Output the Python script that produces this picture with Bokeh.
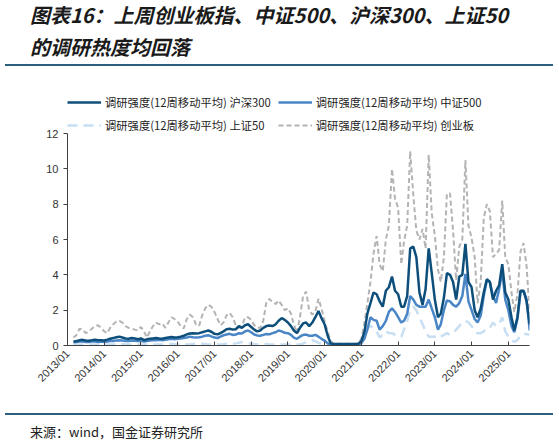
from math import pi
import pandas as pd
from bokeh.plotting import figure
from bokeh.layouts import column
from bokeh.models import (Div, Legend, LegendItem, FixedTicker,
                          DatetimeTickFormatter, Range1d)
from bokeh.embed import file_html
from bokeh.resources import INLINE

# monthly points, 2013/03 .. 2025/08
dates = pd.date_range("2013-03-01", "2025-08-01", freq="MS")

# 调研强度(12周移动平均) 沪深300
hs300 = [0.22, 0.25, 0.30, 0.32, 0.28, 0.27, 0.30, 0.33, 0.30, 0.30,
         0.28, 0.33, 0.38, 0.42, 0.47, 0.50, 0.45, 0.40, 0.38, 0.42, 0.40, 0.35,
         0.40, 0.30, 0.35, 0.38, 0.40, 0.42, 0.40, 0.38, 0.42, 0.45, 0.48, 0.45,
         0.47, 0.50, 0.55, 0.63, 0.68, 0.70, 0.68, 0.70, 0.75, 0.80, 0.85, 0.78,
         0.66, 0.63, 0.70, 0.80, 0.92, 0.95, 0.90, 0.92, 1.10, 1.00, 1.15, 1.20,
         1.05, 0.90, 0.80, 0.85, 1.00, 1.10, 1.13, 1.10, 1.20, 1.40, 1.55, 1.45,
         1.30, 1.10, 0.85, 0.70, 1.00, 1.25, 1.30, 1.10, 1.30, 1.60, 1.95, 1.55,
         1.20, 0.55, 0.12, 0.08, 0.08, 0.08, 0.08, 0.08, 0.08, 0.08, 0.08, 0.10,
         0.25, 0.80, 1.80, 2.40, 3.00, 2.90, 2.50, 2.20, 3.10, 3.30, 3.90, 3.10,
         2.90, 2.20, 2.20, 2.80, 5.50, 5.60, 5.00, 3.00, 2.30, 3.20, 5.50, 4.10,
         2.60, 1.60, 1.80, 2.70, 4.10, 4.00, 3.60, 2.60, 3.90, 4.00, 5.75, 3.60,
         3.30, 2.00, 1.60, 2.10, 3.00, 3.75, 3.60, 2.60, 3.10, 3.40, 4.60, 3.00,
         2.60, 1.60, 0.85, 1.60, 3.10, 3.10, 2.50, 1.20]

# 调研强度(12周移动平均) 中证500
zz500 = [0.18, 0.20, 0.22, 0.22, 0.20, 0.20, 0.22, 0.22, 0.20, 0.22,
         0.20, 0.22, 0.25, 0.25, 0.28, 0.30, 0.28, 0.25, 0.25, 0.28, 0.27, 0.25,
         0.27, 0.22, 0.25, 0.28, 0.30, 0.30, 0.32, 0.30, 0.32, 0.35, 0.38, 0.36,
         0.38, 0.40, 0.42, 0.45, 0.50, 0.47, 0.45, 0.47, 0.50, 0.55, 0.58, 0.52,
         0.45, 0.42, 0.50, 0.58, 0.62, 0.66, 0.60, 0.62, 0.70, 0.68, 0.80, 0.85,
         0.75, 0.62, 0.57, 0.55, 0.60, 0.65, 0.63, 0.70, 0.75, 0.85, 0.80, 0.72,
         0.70, 0.60, 0.45, 0.38, 0.50, 0.60, 0.62, 0.55, 0.55, 0.60, 0.50, 0.38,
         0.28, 0.12, 0.03, 0.02, 0.02, 0.02, 0.02, 0.02, 0.02, 0.02, 0.03, 0.05,
         0.15, 0.40, 0.90, 1.60, 1.45, 1.40, 0.90, 1.10, 1.40, 1.90, 2.10, 1.90,
         1.60, 1.30, 1.40, 1.80, 2.80, 2.60, 2.30, 2.20, 2.20, 2.20, 2.60, 2.10,
         1.60, 0.90, 1.20, 2.00, 2.55, 2.50, 2.30, 2.20, 2.40, 2.80, 4.05, 2.50,
         2.00, 1.50, 1.30, 1.70, 2.80, 3.70, 3.60, 2.80, 2.40, 3.20, 4.20, 2.60,
         2.00, 1.10, 0.75, 1.50, 3.00, 3.10, 2.60, 0.85]

# 调研强度(12周移动平均) 上证50
sz50 = [0.05, 0.05, 0.05, 0.05, 0.05, 0.05, 0.05, 0.05, 0.05, 0.05,
        0.05, 0.05, 0.05, 0.06, 0.08, 0.10, 0.08, 0.06, 0.05, 0.05, 0.05, 0.05,
        0.05, 0.05, 0.06, 0.06, 0.05, 0.05, 0.05, 0.05, 0.06, 0.08, 0.10, 0.08,
        0.06, 0.06, 0.05, 0.05, 0.06, 0.08, 0.12, 0.12, 0.10, 0.08, 0.05, 0.05,
        0.05, 0.05, 0.06, 0.08, 0.10, 0.08, 0.10, 0.12, 0.15, 0.20, 0.18, 0.12,
        0.10, 0.08, 0.06, 0.06, 0.08, 0.08, 0.06, 0.05, 0.06, 0.05, 0.05, 0.06,
        0.05, 0.05, 0.05, 0.05, 0.06, 0.10, 0.20, 0.25, 0.30, 0.25, 0.15, 0.10,
        0.05, 0.02, 0.02, 0.02, 0.02, 0.02, 0.02, 0.02, 0.02, 0.02, 0.02, 0.03,
        0.10, 0.60, 1.00, 1.10, 1.00, 0.80, 0.45, 0.60, 0.80, 0.70, 0.70, 0.60,
        0.50, 0.50, 0.90, 1.40, 2.00, 2.20, 2.00, 1.60, 1.20, 0.80, 0.50, 0.50,
        0.50, 0.60, 0.50, 0.60, 0.70, 0.60, 0.70, 0.90, 1.10, 1.30, 1.40, 1.30,
        1.10, 0.80, 0.70, 0.70, 0.80, 1.00, 1.00, 1.30, 1.10, 1.20, 1.60, 0.80,
        0.50, 0.30, 0.20, 0.30, 0.60, 0.65, 0.65, 0.60]

# 调研强度(12周移动平均) 创业板
cyb = [0.45, 0.60, 0.95, 0.90, 0.70, 0.80, 0.95, 1.10, 1.15, 1.00,
       0.80, 0.70, 1.00, 1.20, 1.35, 1.40, 1.30, 1.10, 1.00, 0.95, 0.90, 0.85,
       1.05, 0.80, 0.45, 0.80, 1.10, 1.30, 1.20, 1.25, 1.00, 1.30, 1.60, 1.50,
       1.35, 1.10, 0.96, 1.50, 1.75, 1.60, 1.20, 1.10, 1.70, 2.10, 2.30, 2.20,
       1.90, 1.50, 1.15, 1.30, 1.70, 1.85, 1.60, 1.15, 1.00, 1.10, 1.60, 1.60,
       1.45, 1.15, 1.00, 1.00, 1.40, 2.45, 2.64, 2.45, 2.35, 2.55, 2.30, 2.00,
       2.10, 1.80, 1.20, 0.70, 1.60, 2.80, 3.05, 2.00, 1.75, 1.90, 2.65, 2.10,
       1.40, 0.77, 0.25, 0.10, 0.10, 0.10, 0.10, 0.10, 0.10, 0.10, 0.10, 0.12,
       0.40, 1.30, 2.40, 3.60, 5.20, 6.20, 4.60, 4.20, 6.00, 6.80, 10.00, 8.30,
       7.80, 4.60, 5.90, 6.80, 11.00, 8.50, 6.50, 6.00, 6.60, 5.50, 10.80, 7.50,
       6.20, 4.30, 3.60, 5.00, 8.60, 8.60, 6.50, 3.70, 5.60, 6.00, 10.50, 6.80,
       6.10, 5.00, 2.40, 3.60, 7.20, 8.00, 7.60, 5.00, 5.20, 5.40, 8.20, 5.00,
       4.60, 3.00, 1.90, 2.90, 5.30, 5.80, 4.50, 1.80]

years = list(range(2013, 2026))
y_ticks = [0, 2, 4, 6, 8, 10, 12]

title1 = "图表16：上周创业板指、中证500、沪深300、上证50"
title2 = "的调研热度均回落"
source = "来源：wind，国金证券研究所"
names = ["调研强度(12周移动平均) 沪深300", "调研强度(12周移动平均) 中证500",
         "调研强度(12周移动平均) 上证50", "调研强度(12周移动平均) 创业板"]

cjk = "Noto Sans CJK SC"
rule_color = "#2b5f7e"
rule = ('<div style="position:absolute;left:5px;top:{}px;width:548px;height:2px;'
        'background:' + rule_color + '"></div>')
title_line = ('<div style="position:absolute;left:30px;top:{}px;font-family:\'' + cjk + '\';'
              'font-size:20px;font-weight:bold;font-style:italic;line-height:26px;'
              'color:#1a1a1a;white-space:nowrap">{}</div>')

head = Div(width=559, height=70, margin=0, text=(
    title_line.format(2, title1) + title_line.format(34, title2) + rule.format(64)))

foot = Div(width=559, height=36, margin=0, text=(
    rule.format(3)
    + '<div style="position:absolute;left:30px;top:13px;font-family:\'' + cjk + '\';'
    'font-size:13px;line-height:18px;color:#222222;white-space:nowrap">'
    + source + '</div>'))

# the frame reaches up to the legend; the y axis line stops at 12
fig = figure(width=559, height=340, x_axis_type="datetime",
             x_range=Range1d(pd.Timestamp("2013-01-01"), pd.Timestamp("2025-07-30")),
             y_range=Range1d(0, 14.55),
             output_backend="svg", toolbar_location=None, tools="",
             min_border_left=67, min_border_right=30,
             min_border_top=18, min_border_bottom=65)
fig.outline_line_color = None
fig.grid.grid_line_color = None

r_cyb = fig.line(dates, cyb, line_color="#b4b4b4", line_width=2, line_dash="5 3")
r_sz50 = fig.line(dates, sz50, line_color="#c8def2", line_width=2.5, line_dash="10 6")
r_zz500 = fig.line(dates, zz500, line_color="#4a86c6", line_width=2.5)
r_hs300 = fig.line(dates, hs300, line_color="#0d4f7a", line_width=2.5)

# axes
fig.xaxis.ticker = FixedTicker(ticks=[pd.Timestamp(f"{y}-01-01").value // 10**6 for y in years])
fig.xaxis.formatter = DatetimeTickFormatter(years="%Y/%m", months="%Y/%m", days="%Y/%m")
fig.xaxis.major_label_orientation = pi / 4
fig.xaxis.major_tick_in = 4
fig.xaxis.major_tick_out = 0
fig.xaxis.major_label_standoff = 6
fig.yaxis.ticker = FixedTicker(ticks=y_ticks)
fig.yaxis.bounds = (0, 12)
fig.yaxis.major_tick_in = 0
fig.yaxis.major_tick_out = 4
fig.yaxis.major_label_standoff = 5
fig.axis.minor_tick_line_color = None
fig.axis.axis_line_color = "#404040"
fig.axis.major_tick_line_color = "#404040"
fig.axis.major_label_text_font = "Liberation Sans"
fig.axis.major_label_text_font_size = "11px"
fig.axis.major_label_text_color = "#333333"

legend = Legend(items=[LegendItem(label=names[0], renderers=[r_hs300]),
                       LegendItem(label=names[1], renderers=[r_zz500]),
                       LegendItem(label=names[2], renderers=[r_sz50]),
                       LegendItem(label=names[3], renderers=[r_cyb])],
                location=(0, 212), orientation="horizontal", ncols=2,
                label_text_font=cjk, label_text_font_size="11.3px",
                label_text_color="#222222", glyph_width=34, glyph_height=16,
                label_height=16, label_standoff=4, spacing=7, padding=0, margin=0,
                border_line_color=None, background_fill_alpha=0)
fig.add_layout(legend)

p = column(head, fig, foot, spacing=0)

open("out.html", "w").write(file_html(p, INLINE))
